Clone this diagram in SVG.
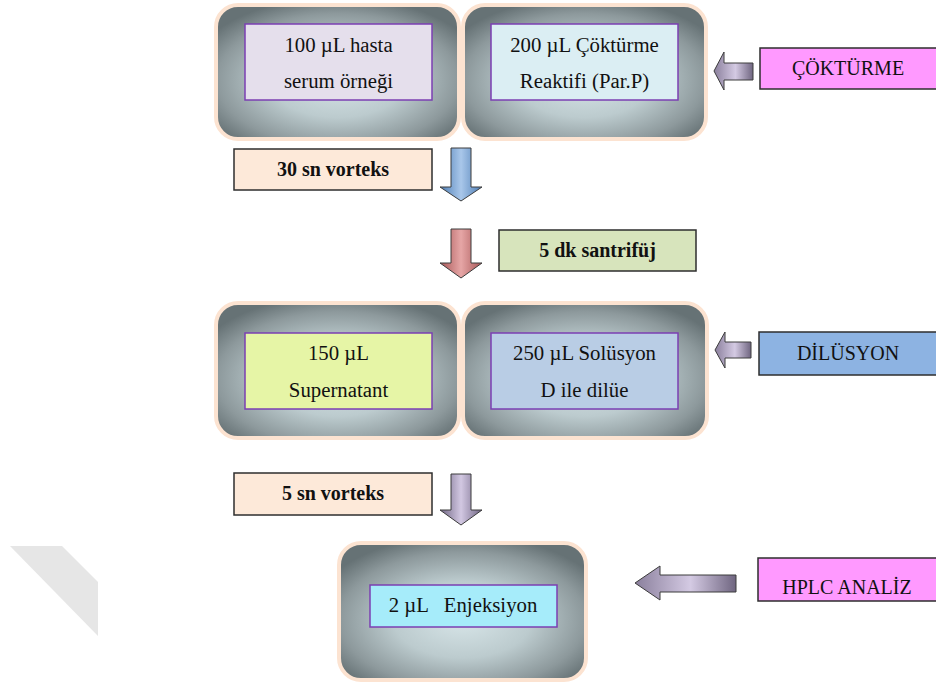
<svg xmlns="http://www.w3.org/2000/svg" width="936" height="684" viewBox="0 0 936 684">
<defs>
<radialGradient id="pg" cx="0.5" cy="0.56" r="0.62">
<stop offset="0" stop-color="#d7e5e8"/>
<stop offset="0.45" stop-color="#bccbce"/>
<stop offset="0.8" stop-color="#8d999c"/>
<stop offset="1" stop-color="#667275"/>
</radialGradient>
<linearGradient id="gb" x1="0" y1="0" x2="1" y2="0">
<stop offset="0" stop-color="#4d7db5"/>
<stop offset="0.5" stop-color="#a9c7ea"/>
<stop offset="1" stop-color="#4d7db5"/>
</linearGradient>
<linearGradient id="gr" x1="0" y1="0" x2="1" y2="0">
<stop offset="0" stop-color="#a85656"/>
<stop offset="0.5" stop-color="#e6a6a6"/>
<stop offset="1" stop-color="#a85656"/>
</linearGradient>
<linearGradient id="gv" x1="0" y1="0" x2="1" y2="0">
<stop offset="0" stop-color="#706584"/>
<stop offset="0.5" stop-color="#d2c8e2"/>
<stop offset="1" stop-color="#706584"/>
</linearGradient>
<linearGradient id="gh" x1="0" y1="0" x2="1" y2="0">
<stop offset="0" stop-color="#8a7f9c"/>
<stop offset="0.55" stop-color="#d4cae3"/>
<stop offset="1" stop-color="#6f6580"/>
</linearGradient>
</defs>
<style>
.panel{fill:url(#pg);stroke:#fce3d1;stroke-width:4}
.inner{stroke:#7b3fb2;stroke-width:1.5}
.lbl{stroke:#2e2e2e;stroke-width:1.5}
.arr{stroke:#3c3c3c;stroke-width:1}
text{font-family:"Liberation Serif","Times New Roman",serif;font-size:20px;fill:#111;text-anchor:middle}
.in{font-size:20.8px}
.b{font-weight:bold}
</style>
<polygon points="10,546 62,546 98,582 98,636" fill="#e6e6e6"/>
<g id="panel1">
<rect class="panel" x="216" y="5" width="243" height="134" rx="22"/>
<rect class="inner" x="245" y="24" width="187" height="76" fill="#e5dfec"/>
<text class="in" x="338.5" y="52">100 µL hasta</text>
<text class="in" x="338.5" y="88">serum örneği</text>
</g>
<g id="panel2">
<rect class="panel" x="463" y="5" width="243" height="134" rx="22"/>
<rect class="inner" x="491" y="24" width="187" height="76" fill="#dbeef3"/>
<text class="in" x="584.5" y="52">200 µL Çöktürme</text>
<text class="in" x="584.5" y="88">Reaktifi (Par.P)</text>
</g>
<g id="panel3">
<rect class="panel" x="216" y="303" width="243" height="135" rx="22"/>
<rect class="inner" x="245" y="333" width="187" height="76" fill="#e6f5a6"/>
<text class="in" x="338.5" y="360">150 µL</text>
<text class="in" x="338.5" y="397">Supernatant</text>
</g>
<g id="panel4">
<rect class="panel" x="463" y="303" width="244" height="135" rx="22"/>
<rect class="inner" x="491" y="333" width="187" height="76" fill="#b9cde5"/>
<text class="in" x="584.5" y="360">250 µL Solüsyon</text>
<text class="in" x="584.5" y="397">D ile dilüe</text>
</g>
<g id="panel5">
<rect class="panel" x="339" y="543" width="247" height="137" rx="22"/>
<rect class="inner" x="370" y="585" width="187" height="42" fill="#a6ecfa"/>
<text class="in" x="463" y="612" style="white-space:pre">2 µL   Enjeksiyon</text>
</g>
<g id="label-vortex30">
<rect class="lbl" x="234" y="149" width="198" height="41" fill="#fde9d9"/>
<text class="b" x="333" y="176">30 sn vorteks</text>
</g>
<g id="label-santrifuj">
<rect class="lbl" x="499" y="230" width="197" height="41" fill="#d7e4bc"/>
<text class="b" x="597.5" y="257">5 dk santrifüj</text>
</g>
<g id="label-vortex5">
<rect class="lbl" x="234" y="473" width="198" height="42" fill="#fde9d9"/>
<text class="b" x="333" y="500">5 sn vorteks</text>
</g>
<g id="label-cokturme">
<rect class="lbl" x="760" y="48" width="180" height="41" fill="#ff99ff"/>
<text x="848" y="75">ÇÖKTÜRME</text>
</g>
<g id="label-dilusyon">
<rect class="lbl" x="759" y="332" width="180" height="43" fill="#8db3e2"/>
<text x="848" y="360">DİLÜSYON</text>
</g>
<g id="label-hplc">
<rect class="lbl" x="758" y="558" width="180" height="43" fill="#ff99ff"/>
<text x="847" y="594">HPLC ANALİZ</text>
</g>
<g id="connectors">
<path class="arr" fill="url(#gb)" d="M451,148 H471 V187 H482 L461,201 L440,187 H451 Z"/>
<path class="arr" fill="url(#gr)" d="M451,229 H471 V263 H482 L461,278 L440,263 H451 Z"/>
<path class="arr" fill="url(#gv)" d="M451,474 H471 V510 H482 L461,525 L440,510 H451 Z"/>
<path class="arr" fill="url(#gh)" d="M714,71 L724,52 V63 H753 V80 H724 V90 Z"/>
<path class="arr" fill="url(#gh)" d="M715,350 L725,332 V342 H751 V358 H725 V368 Z"/>
<path class="arr" fill="url(#gh)" d="M635,583 L660,566 V575 H736 V592 H660 V600 Z"/>
</g>
</svg>
